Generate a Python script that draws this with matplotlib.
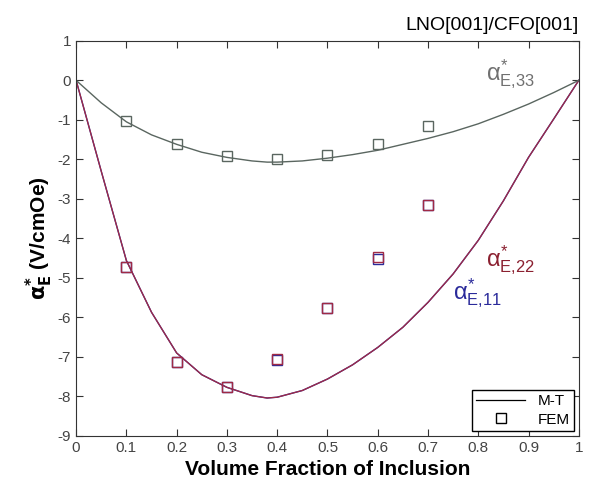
import numpy as np
import matplotlib
matplotlib.use("Agg")
import matplotlib.pyplot as plt

plt.rcParams['font.family'] = ['Liberation Sans', 'DejaVu Sans']
plt.rcParams['mathtext.fontset'] = 'custom'
plt.rcParams['mathtext.rm'] = 'Liberation Sans'
plt.rcParams['mathtext.it'] = 'Liberation Sans'
plt.rcParams['axes.unicode_minus'] = False

# M-T curves
vf_line = [0.0, 0.05, 0.1, 0.15, 0.2, 0.25, 0.3, 0.35, 0.38, 0.4, 0.45, 0.5,
           0.55, 0.6, 0.65, 0.7, 0.75, 0.8, 0.85, 0.9, 0.95, 1.0]
mt_33 = [0.0, -0.57, -1.05, -1.38, -1.62, -1.82, -1.95, -2.04, -2.07, -2.07,
         -2.04, -1.97, -1.88, -1.77, -1.62, -1.47, -1.3, -1.1, -0.86, -0.6, -0.31, 0.0]
mt_22 = [0.0, -2.3, -4.56, -5.87, -6.9, -7.45, -7.77, -7.98, -8.04, -8.02,
         -7.85, -7.56, -7.2, -6.76, -6.25, -5.62, -4.9, -4.05, -3.05, -1.95, -0.98, 0.0]

# FEM points
vf_fem = [0.1, 0.2, 0.3, 0.4, 0.5, 0.6, 0.7]
fem_33 = [-1.03, -1.62, -1.92, -2.0, -1.88, -1.62, -1.15]
fem_22 = [-4.72, -7.12, -7.75, -7.05, -5.77, -4.48, -3.15]
fem_11 = [-4.72, -7.14, -7.77, -7.07, -5.77, -4.52, -3.15]

c33 = '#5a6660'
c22 = '#a02a45'
c11 = '#2a2a9a'

fig = plt.figure(figsize=(5.9, 4.86), dpi=100)
ax = fig.add_axes([0.129, 0.103, 0.852, 0.813])

ax.plot(vf_line, mt_22, color=c11, lw=1.0)
ax.plot(vf_line, mt_22, color=c22, lw=0.9)
ax.plot(vf_line, mt_33, color=c33, lw=1.0)
ax.plot(vf_fem, fem_11, 's', ms=7, mfc='none', mec=c11, mew=1.0)
ax.plot(vf_fem, fem_22, 's', ms=7, mfc='none', mec=c22, mew=1.0)
ax.plot(vf_fem, fem_33, 's', ms=7, mfc='none', mec=c33, mew=1.0)

# legend proxies
ax.plot([], [], '-', color='black', lw=0.9, label='M-T')
ax.plot([], [], 's', ms=7, mfc='none', mec='black', mew=1.0, label='FEM')
ax.legend(loc='lower right', fontsize=11, frameon=True, fancybox=False,
          edgecolor='black', framealpha=1, borderaxespad=0.3, handlelength=3.2,
          borderpad=0.3, labelspacing=0.3)

ax.text(0.815, 0.0, r'$\alpha^{*}_{E{,}33}$', color='#707070', fontsize=17)
ax.text(0.815, -4.7, r'$\alpha^{*}_{E{,}22}$', color='#8b2030', fontsize=17)
ax.text(0.75, -5.55, r'$\alpha^{*}_{E{,}11}$', color=c11, fontsize=17)

ax.set_xlim(0, 1)
ax.set_ylim(-9, 1)
ax.set_xticks(np.arange(0, 1.01, 0.1))
ax.set_xticklabels(['0', '0.1', '0.2', '0.3', '0.4', '0.5', '0.6', '0.7', '0.8', '0.9', '1'])
ax.set_yticks(range(-9, 2))
ax.tick_params(direction='in', top=True, right=True, labelsize=11, length=5,
               colors='#333333', labelcolor='#444444')
for s in ax.spines.values():
    s.set_color('#333333')

ax.set_xlabel('Volume Fraction of Inclusion', fontsize=15, fontweight='bold', labelpad=4)
ax.set_ylabel(r'$\mathbf{\alpha^{*}_{E}}$ (V/cmOe)', fontsize=15, fontweight='bold', labelpad=2)
ax.set_title('LNO[001]/CFO[001]', loc='right', fontsize=14, pad=8)

fig.savefig('out.png', dpi=100)
